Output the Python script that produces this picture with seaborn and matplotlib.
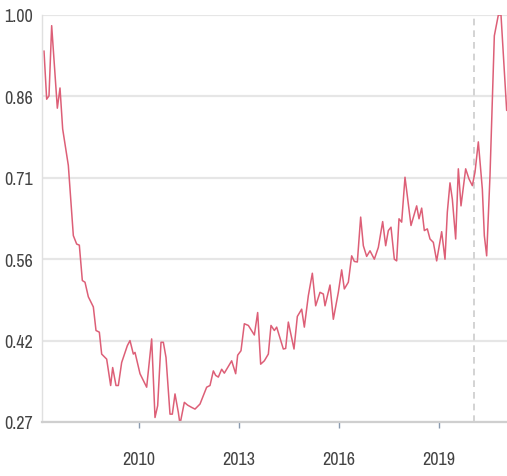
import matplotlib
matplotlib.use("Agg")
import matplotlib.pyplot as plt
import seaborn as sns
import pandas as pd

# dates en années décimales
annees = [2007.15, 2007.23, 2007.30, 2007.38, 2007.55, 2007.63, 2007.71, 2007.88,
          2008.03, 2008.13, 2008.21, 2008.30, 2008.38, 2008.48, 2008.63, 2008.71,
          2008.81, 2008.88, 2009.03, 2009.15, 2009.21, 2009.31, 2009.38, 2009.48,
          2009.65, 2009.73, 2009.83, 2009.88, 2010.03, 2010.23, 2010.38, 2010.48,
          2010.56, 2010.66, 2010.73, 2010.81, 2010.93, 2011.00, 2011.08, 2011.18,
          2011.23, 2011.36, 2011.46, 2011.58, 2011.68, 2011.83, 2012.03, 2012.13,
          2012.23, 2012.30, 2012.38, 2012.48, 2012.56, 2012.78, 2012.90, 2012.96,
          2013.06, 2013.16, 2013.28, 2013.46, 2013.56, 2013.65, 2013.76, 2013.88,
          2013.96, 2014.06, 2014.13, 2014.33, 2014.40, 2014.48, 2014.65, 2014.75,
          2014.88, 2014.96, 2015.08, 2015.20, 2015.30, 2015.43, 2015.53, 2015.58,
          2015.73, 2015.83, 2015.98, 2016.08, 2016.16, 2016.28, 2016.38, 2016.46,
          2016.55, 2016.65, 2016.73, 2016.83, 2016.93, 2017.06, 2017.18, 2017.31,
          2017.40, 2017.48, 2017.56, 2017.66, 2017.73, 2017.80, 2017.88, 2017.98,
          2018.16, 2018.33, 2018.40, 2018.48, 2018.56, 2018.65, 2018.73, 2018.83,
          2018.93, 2019.08, 2019.18, 2019.25, 2019.33, 2019.40, 2019.50, 2019.58,
          2019.66, 2019.80, 2019.90, 2020.00, 2020.08, 2020.18, 2020.30, 2020.36,
          2020.43, 2020.53, 2020.66, 2020.78, 2020.86, 2021.03]
valeurs = [0.936, 0.850, 0.856, 0.981, 0.834, 0.870, 0.797, 0.732,
           0.607, 0.592, 0.590, 0.527, 0.524, 0.498, 0.480, 0.438,
           0.435, 0.396, 0.387, 0.340, 0.372, 0.340, 0.340, 0.381,
           0.411, 0.420, 0.396, 0.399, 0.361, 0.337, 0.423, 0.283,
           0.304, 0.417, 0.417, 0.390, 0.289, 0.289, 0.325, 0.292,
           0.271, 0.310, 0.305, 0.301, 0.298, 0.307, 0.337, 0.340,
           0.366, 0.358, 0.355, 0.369, 0.362, 0.384, 0.361, 0.394,
           0.402, 0.450, 0.447, 0.430, 0.470, 0.378, 0.384, 0.396,
           0.447, 0.438, 0.444, 0.405, 0.406, 0.453, 0.405, 0.463,
           0.476, 0.444, 0.500, 0.540, 0.482, 0.506, 0.503, 0.482,
           0.519, 0.458, 0.506, 0.546, 0.512, 0.524, 0.571, 0.561,
           0.560, 0.640, 0.589, 0.570, 0.580, 0.565, 0.586, 0.632,
           0.589, 0.616, 0.622, 0.565, 0.562, 0.637, 0.631, 0.711,
           0.625, 0.660, 0.637, 0.656, 0.616, 0.619, 0.601, 0.595,
           0.562, 0.614, 0.565, 0.649, 0.701, 0.672, 0.601, 0.726,
           0.660, 0.726, 0.708, 0.696, 0.720, 0.774, 0.690, 0.607,
           0.571, 0.714, 0.963, 1.000, 1.000, 0.830]

ticks_y = [0.275, 0.42, 0.565, 0.71, 0.855, 1.0]
labels_y = ["0.27", "0.42", "0.56", "0.71", "0.86", "1.00"]
ticks_x = [2010, 2013, 2016, 2019]
repere = 2020.05

df = pd.DataFrame({"annee": annees, "valeur": valeurs})

sns.set_theme(style="white")
plt.rcParams["font.family"] = ["Liberation Sans Narrow", "Archivo Narrow", "DejaVu Sans"]

fig = plt.figure(figsize=(5.07, 4.77), dpi=100)
ax = fig.add_axes([42 / 507, 54 / 477, 465 / 507, 407 / 477])

sns.lineplot(data=df, x="annee", y="valeur", ax=ax, color="#dd5f77", linewidth=1.1)

ax.set_xlim(2007.09, 2021.04)
ax.set_ylim(0.275, 1.0)
ax.set_yticks(ticks_y)
ax.set_yticklabels(labels_y)
ax.set_xticks(ticks_x)
ax.set_xticklabels([str(t) for t in ticks_x])
ax.set_xlabel("")
ax.set_ylabel("")

ax.grid(axis="y", color="#e6e6e6", linewidth=1.6)
ax.grid(axis="x", visible=False)
ax.set_axisbelow(True)
ax.axvline(repere, color="#cccccc", linestyle=(0, (4, 3)), linewidth=1.2, zorder=1)

for s in ["top", "right"]:
    ax.spines[s].set_visible(False)
ax.spines["left"].set_color("#e0e0e0")
ax.spines["left"].set_linewidth(1.0)
ax.spines["bottom"].set_color("#cfcfcf")
ax.spines["bottom"].set_linewidth(1.6)

ax.tick_params(axis="x", bottom=True, length=4, width=1, color="#8a9bb0",
               labelsize=13, labelcolor="#444444", pad=17)
ax.tick_params(axis="y", left=False, length=0, labelsize=13, labelcolor="#444444", pad=6.5)

fig.savefig("out.png", dpi=100)
